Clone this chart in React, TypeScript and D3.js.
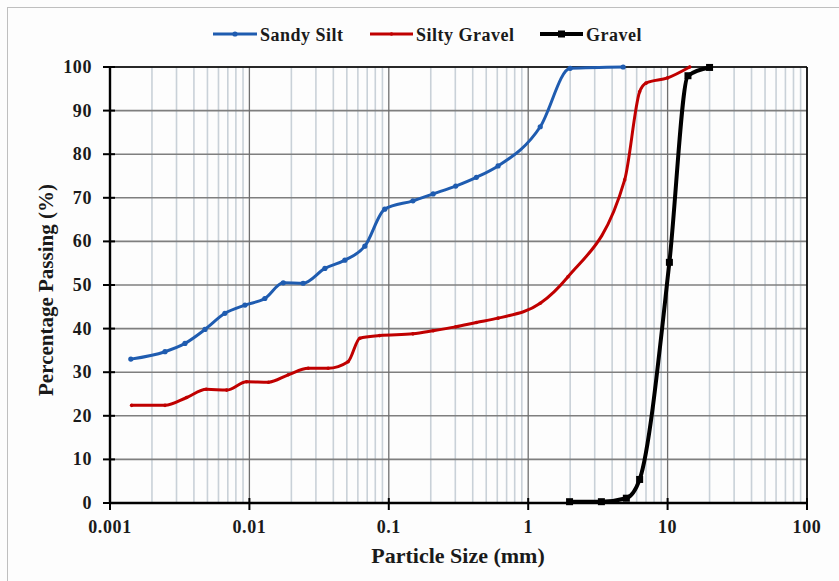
import React from "react";
import * as d3 from "d3";

const sandySiltSize = [0.00141, 0.00248, 0.00345, 0.0048, 0.00667, 0.0093, 0.0129, 0.0175, 0.0243, 0.0348, 0.0484, 0.0673, 0.0935, 0.149, 0.208, 0.302, 0.425, 0.608, 1.22, 2.0, 4.8];
const sandySiltPass = [33.0, 34.7, 36.6, 39.8, 43.5, 45.4, 46.9, 50.5, 50.4, 53.8, 55.7, 58.9, 67.4, 69.3, 70.9, 72.7, 74.7, 77.3, 86.3, 99.7, 100];

const siltyGravelSize = [0.00143, 0.00248, 0.00355, 0.0049, 0.00687, 0.00955, 0.0137, 0.019, 0.0264, 0.0367, 0.051, 0.062, 0.086, 0.149, 0.208, 0.302, 0.425, 0.608, 1.22, 1.93, 4.92, 6.3, 7.0, 10.0, 14.4];
const siltyGravelPass = [22.4, 22.4, 24.2, 26.1, 25.9, 27.8, 27.7, 29.4, 30.9, 30.9, 32.4, 37.8, 38.4, 38.8, 39.5, 40.4, 41.4, 42.4, 45.8, 51.9, 74.1, 94.3, 96.3, 97.5, 100];

const gravelSize = [1.98, 3.35, 5.06, 6.3, 10.3, 14.0, 20.0];
const gravelPass = [0.3, 0.3, 1.1, 5.4, 55.2, 98.0, 99.9];

const xTicks = [0.001, 0.01, 0.1, 1, 10, 100];
const xTickLabels = ["0.001", "0.01", "0.1", "1", "10", "100"];
const yTicks = [0, 10, 20, 30, 40, 50, 60, 70, 80, 90, 100];

const seriesNames = ["Sandy Silt", "Silty Gravel", "Gravel"];

const W = 839;
const H = 581;
const L = 110, R = 807, T = 67, B = 503;
const FONT = "'Liberation Serif', 'Times New Roman', serif";

export default function App() {
  const x = d3.scaleLog().domain([0.001, 100]).range([L, R]);
  const y = d3.scaleLinear().domain([0, 100]).range([B, T]);

  const minor: number[] = [];
  for (let e = -3; e < 2; e++) {
    for (let k = 2; k <= 9; k++) minor.push(k * Math.pow(10, e));
  }

  const line = d3
    .line<[number, number]>()
    .x((d) => x(d[0]))
    .y((d) => y(d[1]))
    .curve(d3.curveMonotoneX);

  const series = [
    { name: seriesNames[0], xs: sandySiltSize, ys: sandySiltPass, color: "#1f5cb0", width: 3, marker: "circle", ms: 2.6 },
    { name: seriesNames[1], xs: siltyGravelSize, ys: siltyGravelPass, color: "#c00000", width: 3, marker: "circle", ms: 1.8 },
    { name: seriesNames[2], xs: gravelSize, ys: gravelPass, color: "#000000", width: 4, marker: "square", ms: 3.5 },
  ];

  const legendItems = [
    { lx1: 213, lx2: 257, tx: 260 },
    { lx1: 370, lx2: 413, tx: 416 },
    { lx1: 540, lx2: 583, tx: 586 },
  ];

  return (
    <svg width={W} height={H} style={{ position: "absolute", left: 0, top: 0, background: "#fdfdfd" }}>
      <rect x={7.5} y={7.5} width={W} height={H} fill="#fdfdfd" stroke="#bfbfbf" strokeWidth={1} />

      {/* minor vertical grid */}
      {minor.map((v, i) => (
        <line key={"mn" + i} x1={x(v)} x2={x(v)} y1={T} y2={B} stroke="#c9d1d8" strokeWidth={1.6} />
      ))}
      {/* horizontal grid */}
      {yTicks.map((v) => (
        <line key={"hg" + v} x1={L} x2={R} y1={y(v)} y2={y(v)} stroke="#7f7f7f" strokeWidth={1.6} />
      ))}
      {/* major vertical grid */}
      {xTicks.map((v) => (
        <line key={"vg" + v} x1={x(v)} x2={x(v)} y1={T} y2={B} stroke="#6f6f6f" strokeWidth={1.3} />
      ))}

      {/* frame */}
      <line x1={L} x2={R} y1={T} y2={T} stroke="#000" strokeWidth={1.6} />
      <line x1={R} x2={R} y1={T} y2={B} stroke="#000" strokeWidth={1.6} />
      <line x1={L} x2={L} y1={T - 1} y2={B + 1} stroke="#000" strokeWidth={2.4} />
      <line x1={L - 1} x2={R + 1} y1={B} y2={B} stroke="#000" strokeWidth={2.4} />

      {/* ticks */}
      {yTicks.map((v) => (
        <line key={"yt" + v} x1={L - 7} x2={L + 5} y1={y(v)} y2={y(v)} stroke="#000" strokeWidth={2} />
      ))}
      {xTicks.map((v) => (
        <line key={"xt" + v} x1={x(v)} x2={x(v)} y1={B - 5} y2={B + 7} stroke="#000" strokeWidth={2} />
      ))}

      {/* tick labels */}
      {yTicks.map((v) => (
        <text key={"yl" + v} x={92} y={y(v) + 6} textAnchor="end" fontFamily={FONT} fontWeight="bold" fontSize={18} letterSpacing={0.6} fill="#1a1a1a">
          {v}
        </text>
      ))}
      {xTicks.map((v, i) => (
        <text key={"xl" + v} x={x(v)} y={533} textAnchor="middle" fontFamily={FONT} fontWeight="bold" fontSize={18} letterSpacing={0.6} fill="#1a1a1a">
          {xTickLabels[i]}
        </text>
      ))}

      {/* series */}
      {series.map((s) => {
        const pts: [number, number][] = s.xs.map((v, i) => [v, s.ys[i]]);
        return (
          <g key={s.name}>
            <path d={line(pts) || ""} fill="none" stroke={s.color} strokeWidth={s.width} strokeLinejoin="round" strokeLinecap="round" />
            {pts.map((p, i) =>
              s.marker === "square" ? (
                <rect key={i} x={x(p[0]) - s.ms} y={y(p[1]) - s.ms} width={s.ms * 2} height={s.ms * 2} fill={s.color} />
              ) : (
                <circle key={i} cx={x(p[0])} cy={y(p[1])} r={s.ms} fill={s.color} />
              )
            )}
          </g>
        );
      })}

      {/* legend */}
      {series.map((s, i) => {
        const it = legendItems[i];
        const mx = (it.lx1 + it.lx2) / 2;
        return (
          <g key={"lg" + i}>
            <line x1={it.lx1} x2={it.lx2} y1={34} y2={34} stroke={s.color} strokeWidth={s.width} />
            {s.marker === "square" ? (
              <rect x={mx - s.ms} y={34 - s.ms} width={s.ms * 2} height={s.ms * 2} fill={s.color} />
            ) : (
              <circle cx={mx} cy={34} r={s.ms} fill={s.color} />
            )}
            <text x={it.tx} y={41} fontFamily={FONT} fontWeight="bold" fontSize={18} letterSpacing={0.5} fill="#1a1a1a">
              {s.name}
            </text>
          </g>
        );
      })}

      {/* axis titles */}
      <text x={458} y={563} textAnchor="middle" fontFamily={FONT} fontWeight="bold" fontSize={22} fill="#1a1a1a">
        Particle Size (mm)
      </text>
      <text
        transform={`translate(53,290) rotate(-90)`}
        textAnchor="middle"
        fontFamily={FONT}
        fontWeight="bold"
        fontSize={21}
        fill="#1a1a1a"
      >
        Percentage Passing (%)
      </text>
    </svg>
  );
}
